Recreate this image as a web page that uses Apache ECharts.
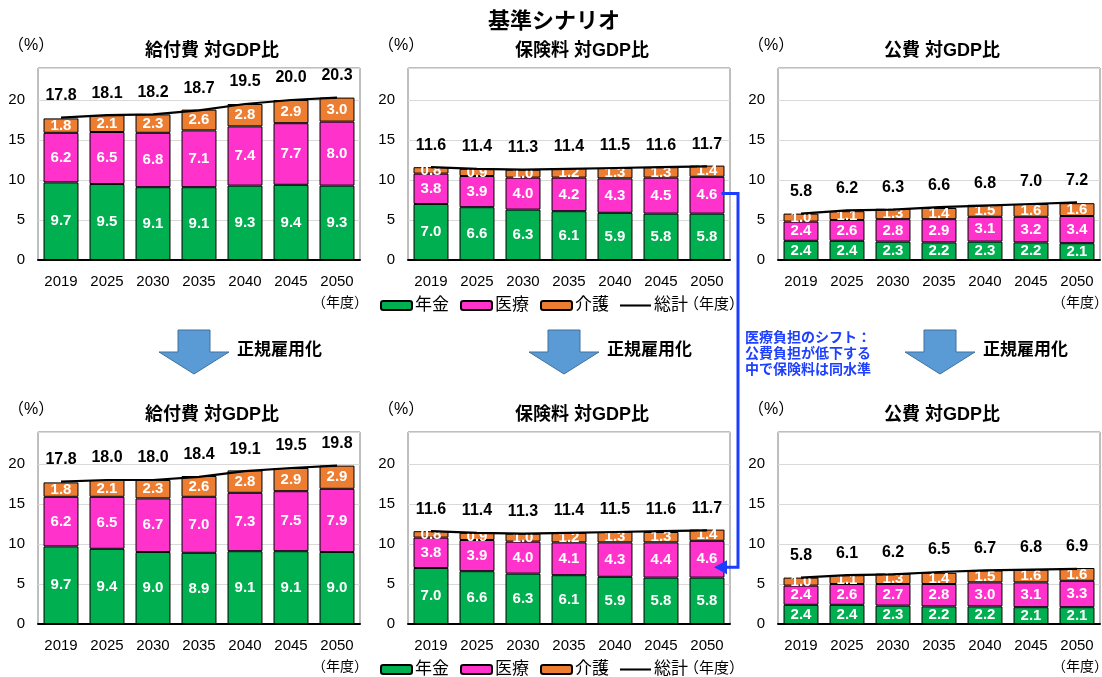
<!DOCTYPE html>
<html>
<head>
<meta charset="utf-8">
<script src="https://cdn.jsdelivr.net/npm/echarts@6/dist/echarts.min.js"></script>
<style>
  html, body { margin: 0; padding: 0; background: #fff; }
  #chart { width: 1102px; height: 677px; }
</style>
</head>
<body>
<div id="chart"></div>
<script>
// ---- data ----
const years = ['2019', '2025', '2030', '2035', '2040', '2045', '2050'];
const yTicks = [0, 5, 10, 15, 20];
const panelTitles = ['給付費 対GDP比', '保険料 対GDP比', '公費 対GDP比'];
const seriesNames = ['年金', '医療', '介護', '総計'];

// 基準シナリオ
const benefitPension = [9.7, 9.5, 9.1, 9.1, 9.3, 9.4, 9.3];
const benefitMedical = [6.2, 6.5, 6.8, 7.1, 7.4, 7.7, 8.0];
const benefitCare    = [1.8, 2.1, 2.3, 2.6, 2.8, 2.9, 3.0];
const benefitTotal   = [17.8, 18.1, 18.2, 18.7, 19.5, 20.0, 20.3];

const premiumPension = [7.0, 6.6, 6.3, 6.1, 5.9, 5.8, 5.8];
const premiumMedical = [3.8, 3.9, 4.0, 4.2, 4.3, 4.5, 4.6];
const premiumCare    = [0.8, 0.9, 1.0, 1.2, 1.3, 1.3, 1.4];
const premiumTotal   = [11.6, 11.4, 11.3, 11.4, 11.5, 11.6, 11.7];

const publicPension = [2.4, 2.4, 2.3, 2.2, 2.3, 2.2, 2.1];
const publicMedical = [2.4, 2.6, 2.8, 2.9, 3.1, 3.2, 3.4];
const publicCare    = [1.0, 1.1, 1.3, 1.4, 1.5, 1.6, 1.6];
const publicTotal   = [5.8, 6.2, 6.3, 6.6, 6.8, 7.0, 7.2];

// 正規雇用化
const benefitPension2 = [9.7, 9.4, 9.0, 8.9, 9.1, 9.1, 9.0];
const benefitMedical2 = [6.2, 6.5, 6.7, 7.0, 7.3, 7.5, 7.9];
const benefitCare2    = [1.8, 2.1, 2.3, 2.6, 2.8, 2.9, 2.9];
const benefitTotal2   = [17.8, 18.0, 18.0, 18.4, 19.1, 19.5, 19.8];

const premiumPension2 = [7.0, 6.6, 6.3, 6.1, 5.9, 5.8, 5.8];
const premiumMedical2 = [3.8, 3.9, 4.0, 4.1, 4.3, 4.4, 4.6];
const premiumCare2    = [0.8, 0.9, 1.0, 1.2, 1.3, 1.3, 1.4];
const premiumTotal2   = [11.6, 11.4, 11.3, 11.4, 11.5, 11.6, 11.7];

const publicPension2 = [2.4, 2.4, 2.3, 2.2, 2.2, 2.1, 2.1];
const publicMedical2 = [2.4, 2.6, 2.7, 2.8, 3.0, 3.1, 3.3];
const publicCare2    = [1.0, 1.1, 1.3, 1.4, 1.5, 1.6, 1.6];
const publicTotal2   = [5.8, 6.1, 6.2, 6.5, 6.7, 6.8, 6.9];

const annotationLines = ['医療負担のシフト：', '公費負担が低下する', '中で保険料は同水準'];
const shiftLabel = '正規雇用化';

// ---- layout ----
const FONT = 'Liberation Sans, Noto Sans CJK JP, sans-serif';
const COLORS = ['#00B050', '#FF33CC', '#ED7D31', '#000000'];
const gridLefts = [38, 408, 778];
const gridWidth = 322;
const gridTops = [68, 432];
const gridHeight = 192;
const Y_MAX = 24;
const titleCenters = [207, 577, 937];

const panels = [
  [benefitPension, benefitMedical, benefitCare, benefitTotal],
  [premiumPension, premiumMedical, premiumCare, premiumTotal],
  [publicPension, publicMedical, publicCare, publicTotal],
  [benefitPension2, benefitMedical2, benefitCare2, benefitTotal2],
  [premiumPension2, premiumMedical2, premiumCare2, premiumTotal2],
  [publicPension2, publicMedical2, publicCare2, publicTotal2]
];

const grids = [], xAxes = [], yAxes = [], series = [], titles = [], graphics = [];

function label(text, left, top, size, extra) {
  return {
    type: 'text', left: left, top: top,
    style: Object.assign({ text: text, fontSize: size, fontFamily: FONT, fill: '#000' }, extra || {})
  };
}

titles.push({
  text: '基準シナリオ', left: 549, top: 6, textAlign: 'center',
  textStyle: { fontFamily: FONT, fontSize: 22, fontWeight: 'bold', color: '#000' }
});

panels.forEach((p, i) => {
  const col = i % 3, row = Math.floor(i / 3);
  const left = gridLefts[col], top = gridTops[row];
  grids.push({
    left: left, top: top, width: gridWidth, height: gridHeight,
    show: true, borderColor: '#7f7f7f', borderWidth: 1, backgroundColor: 'transparent'
  });
  xAxes.push({
    type: 'category', gridIndex: i, data: years,
    axisTick: { show: false },
    axisLine: { lineStyle: { color: '#000', width: 2 } },
    axisLabel: { color: '#000', fontSize: 15, fontFamily: FONT, margin: 14 }
  });
  yAxes.push({
    type: 'value', gridIndex: i, min: 0, max: Y_MAX, interval: 5,
    axisLine: { show: false }, axisTick: { show: false },
    splitLine: { lineStyle: { color: '#d9d9d9', width: 1 } },
    axisLabel: {
      color: '#000', fontSize: 15, fontFamily: FONT, margin: 13,
      formatter: v => (yTicks.indexOf(v) >= 0 ? String(v) : '')
    }
  });
  for (let k = 0; k < 3; k++) {
    series.push({
      name: seriesNames[k], type: 'bar', stack: 'panel' + i,
      xAxisIndex: i, yAxisIndex: i, data: p[k],
      barWidth: '76%',
      itemStyle: { color: COLORS[k], borderColor: '#000', borderWidth: 1 },
      label: {
        show: true, position: 'inside', color: '#fff', fontFamily: FONT,
        fontSize: 15, fontWeight: 'bold',
        formatter: d => d.value.toFixed(1)
      },
      z: 2
    });
  }
  series.push({
    name: seriesNames[3], type: 'line', xAxisIndex: i, yAxisIndex: i, data: p[3],
    symbol: 'circle', symbolSize: 0, showSymbol: true,
    lineStyle: { color: '#000', width: 2.2 }, itemStyle: { color: '#000' },
    label: {
      show: true, position: 'top', distance: 14, color: '#000', fontFamily: FONT,
      fontSize: 16, fontWeight: 'bold', formatter: d => d.value.toFixed(1)
    },
    z: 5
  });

  // panel title and unit
  titles.push({
    text: panelTitles[col], left: titleCenters[col], top: top - 31,
    textAlign: 'center',
    textStyle: { fontFamily: FONT, fontSize: 18, fontWeight: 'bold', color: '#000' }
  });
  graphics.push(label('（%）', left - 30, top - 30, 16));
  if (col !== 1) {
    graphics.push(label('（年度）', left + gridWidth - 48, top + gridHeight + 36, 14));
  }
});

// legends under the middle panels
const legends = gridTops.map(top => ({
  left: 380, top: top + gridHeight + 37, padding: 0,
  itemWidth: 31, itemHeight: 9, itemGap: 11,
  textStyle: { fontFamily: FONT, fontSize: 17, color: '#000', padding: [0, 0, 0, -2] },
  data: [
    { name: '年金' }, { name: '医療' }, { name: '介護' },
    { name: '総計', icon: 'path://M0,0H30V2H0Z', itemStyle: { color: '#000' } }
  ],
  symbolKeepAspect: true,
  selectedMode: false
}));
gridTops.forEach(top => {
  graphics.push(label('（年度）', 684, top + gridHeight + 37, 15));
});

// arrows between rows
[194, 564, 940].forEach(cx => {
  graphics.push({
    type: 'polygon',
    shape: { points: [
      [cx - 16, 330], [cx + 16, 330], [cx + 16, 352], [cx + 35, 352],
      [cx, 374], [cx - 35, 352], [cx - 16, 352]
    ] },
    style: { fill: '#5B9BD5', stroke: '#41719C', lineWidth: 1 }
  });
  graphics.push(label(shiftLabel, cx + 43, 342, 17, { fontWeight: 'bold' }));
});

graphics.push(label(annotationLines.join('\n'), 745, 330, 14,
  { fontWeight: 'bold', fill: '#1F3FFF', lineHeight: 16 }));

const chart = echarts.init(document.getElementById('chart'), null, { renderer: 'canvas' });
chart.setOption({
  animation: false,
  backgroundColor: '#fff',
  title: titles,
  legend: legends,
  grid: grids,
  xAxis: xAxes,
  yAxis: yAxes,
  series: series,
  graphic: graphics
});

// blue connector from the 2050 medical bar (top) to the same bar (bottom)
const lastIdx = years.length - 1;
const topMed = premiumPension[lastIdx] + premiumMedical[lastIdx] / 2;
const botMed = premiumPension2[lastIdx] + premiumMedical2[lastIdx] / 2;
const pTop = chart.convertToPixel({ xAxisIndex: 1, yAxisIndex: 1 }, [years[lastIdx], topMed + 0.2]);
const pBot = chart.convertToPixel({ xAxisIndex: 4, yAxisIndex: 4 }, [years[lastIdx], botMed - 1.0]);
const catW = gridWidth / years.length;
const barRight = pTop[0] + catW * 0.38;
const railX = 738;
const BLUE = '#1A3DFF';
chart.setOption({
  graphic: graphics.concat([
    { type: 'polyline', shape: { points: [[barRight - 3, pTop[1]], [railX, pTop[1]], [railX, pBot[1]], [pBot[0] + 14, pBot[1]]] },
      style: { stroke: BLUE, lineWidth: 3, fill: null }, z: 10 },
    { type: 'polygon', shape: { points: [[pBot[0] + 7, pBot[1]], [pBot[0] + 20, pBot[1] - 7], [pBot[0] + 20, pBot[1] + 7]] },
      style: { fill: BLUE }, z: 10 }
  ])
});
</script>
</body>
</html>
